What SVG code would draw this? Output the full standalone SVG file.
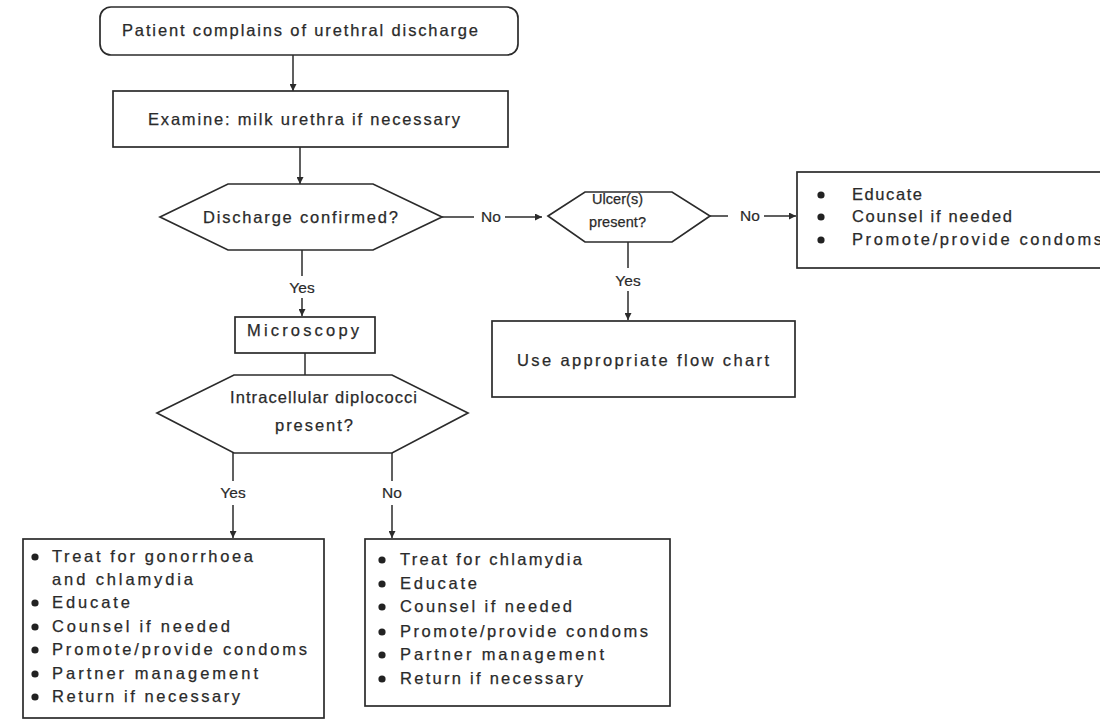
<svg xmlns="http://www.w3.org/2000/svg" width="1100" height="721" viewBox="0 0 1100 721">
  <style>
    .shape { fill: #ffffff; stroke: #2b2b2b; stroke-width: 1.7; }
    .edge { fill: none; stroke: #2b2b2b; stroke-width: 1.5; }
    .t { font-family: "Liberation Sans", Arial, sans-serif; font-size: 16.5px; fill: #2a2a2a; stroke: #2a2a2a; stroke-width: 0.25; }
    .s { font-size: 14.5px; }
    .lbl { font-family: "Liberation Sans", Arial, sans-serif; font-size: 15.5px; fill: #2a2a2a; stroke: #2a2a2a; stroke-width: 0.2; text-anchor: middle; }
    .dot { fill: #222222; }
  </style>
  <defs>
    <marker id="arrow" viewBox="0 0 10 10" refX="10" refY="5" markerWidth="7" markerHeight="7" markerUnits="userSpaceOnUse" orient="auto">
      <path d="M0,0 L10,5 L0,10 z" fill="#2b2b2b"/>
    </marker>
  </defs>
  <rect width="1100" height="721" fill="#ffffff"/>

  <!-- connectors -->
  <g id="connectors">
    <line class="edge" x1="293" y1="55" x2="293" y2="91" marker-end="url(#arrow)"/>
    <line class="edge" x1="300" y1="147" x2="300" y2="184" marker-end="url(#arrow)"/>
    <line class="edge" x1="442" y1="217" x2="474" y2="217"/>
    <text class="lbl" x="491" y="222">No</text>
    <line class="edge" x1="505" y1="217" x2="542" y2="217" marker-end="url(#arrow)"/>
    <line class="edge" x1="710" y1="216" x2="728" y2="216"/>
    <text class="lbl" x="750" y="221">No</text>
    <line class="edge" x1="764" y1="216" x2="796" y2="216" marker-end="url(#arrow)"/>
    <line class="edge" x1="628" y1="242" x2="628" y2="268"/>
    <text class="lbl" x="628" y="286">Yes</text>
    <line class="edge" x1="628" y1="291" x2="628" y2="320" marker-end="url(#arrow)"/>
    <line class="edge" x1="302" y1="250" x2="302" y2="276"/>
    <text class="lbl" x="302" y="293">Yes</text>
    <line class="edge" x1="302" y1="298" x2="302" y2="316" marker-end="url(#arrow)"/>
    <line class="edge" x1="305" y1="353" x2="305" y2="375"/>
    <line class="edge" x1="233" y1="453" x2="233" y2="481"/>
    <text class="lbl" x="233" y="498">Yes</text>
    <line class="edge" x1="233" y1="505" x2="233" y2="538" marker-end="url(#arrow)"/>
    <line class="edge" x1="392" y1="453" x2="392" y2="481"/>
    <text class="lbl" x="392" y="498">No</text>
    <line class="edge" x1="392" y1="505" x2="392" y2="538" marker-end="url(#arrow)"/>
  </g>

  <g id="start">
    <rect class="shape" x="100" y="7" width="418" height="48" rx="11"/>
    <text class="t" x="122" y="36" textLength="356" lengthAdjust="spacing">Patient complains of urethral discharge</text>
  </g>

  <g id="examine">
    <rect class="shape" x="113" y="91" width="395" height="56"/>
    <text class="t" x="148" y="125" textLength="312" lengthAdjust="spacing">Examine: milk urethra if necessary</text>
  </g>

  <g id="discharge-confirmed">
    <polygon class="shape" points="160,217 228,184 373,184 442,217 373,250 228,250"/>
    <text class="t" x="203" y="223" textLength="195" lengthAdjust="spacing">Discharge confirmed?</text>
  </g>

  <g id="ulcers-present">
    <polygon class="shape" points="548,216 585,192 672,192 710,216 672,242 585,242"/>
    <text class="t s" x="592" y="204" textLength="51" lengthAdjust="spacing">Ulcer(s)</text>
    <text class="t s" x="589" y="227" textLength="57" lengthAdjust="spacing">present?</text>
  </g>

  <g id="no-ulcer-actions">
    <rect class="shape" x="797" y="172" width="310" height="96"/>
    <circle class="dot" cx="821" cy="195" r="3.6"/>
    <circle class="dot" cx="821" cy="217" r="3.6"/>
    <circle class="dot" cx="821" cy="240" r="3.6"/>
    <text class="t" x="852" y="200" textLength="70" lengthAdjust="spacing">Educate</text>
    <text class="t" x="852" y="222" textLength="160" lengthAdjust="spacing">Counsel if needed</text>
    <text class="t" x="852" y="245" textLength="250" lengthAdjust="spacing">Promote/provide condoms</text>
  </g>

  <g id="other-flow-chart">
    <rect class="shape" x="492" y="321" width="303" height="76"/>
    <text class="t" x="517" y="366" textLength="252" lengthAdjust="spacing">Use appropriate flow chart</text>
  </g>

  <g id="microscopy">
    <rect class="shape" x="235" y="317" width="140" height="36"/>
    <text class="t" x="247" y="336" textLength="112" lengthAdjust="spacing">Microscopy</text>
  </g>

  <g id="diplococci-present">
    <polygon class="shape" points="157,413 234,375 392,375 468,413 392,453 234,453"/>
    <text class="t" x="230" y="403" textLength="187" lengthAdjust="spacing">Intracellular diplococci</text>
    <text class="t" x="275" y="431" textLength="78" lengthAdjust="spacing">present?</text>
  </g>

  <g id="gonorrhoea-actions">
    <rect class="shape" x="23" y="539" width="301" height="179"/>
    <circle class="dot" cx="35" cy="557" r="3.6"/>
    <circle class="dot" cx="35" cy="603" r="3.6"/>
    <circle class="dot" cx="35" cy="627" r="3.6"/>
    <circle class="dot" cx="35" cy="650" r="3.6"/>
    <circle class="dot" cx="35" cy="674" r="3.6"/>
    <circle class="dot" cx="35" cy="697" r="3.6"/>
    <text class="t" x="52" y="562" textLength="201" lengthAdjust="spacing">Treat for gonorrhoea</text>
    <text class="t" x="52" y="585" textLength="141" lengthAdjust="spacing">and chlamydia</text>
    <text class="t" x="52" y="608" textLength="78" lengthAdjust="spacing">Educate</text>
    <text class="t" x="52" y="632" textLength="178" lengthAdjust="spacing">Counsel if needed</text>
    <text class="t" x="52" y="655" textLength="255" lengthAdjust="spacing">Promote/provide condoms</text>
    <text class="t" x="52" y="679" textLength="206" lengthAdjust="spacing">Partner management</text>
    <text class="t" x="52" y="702" textLength="188" lengthAdjust="spacing">Return if necessary</text>
  </g>

  <g id="chlamydia-actions">
    <rect class="shape" x="365" y="539" width="305" height="167"/>
    <circle class="dot" cx="382" cy="560" r="3.6"/>
    <circle class="dot" cx="382" cy="584" r="3.6"/>
    <circle class="dot" cx="382" cy="607" r="3.6"/>
    <circle class="dot" cx="382" cy="632" r="3.6"/>
    <circle class="dot" cx="382" cy="655" r="3.6"/>
    <circle class="dot" cx="382" cy="679" r="3.6"/>
    <text class="t" x="400" y="565" textLength="182" lengthAdjust="spacing">Treat for chlamydia</text>
    <text class="t" x="400" y="589" textLength="77" lengthAdjust="spacing">Educate</text>
    <text class="t" x="400" y="612" textLength="172" lengthAdjust="spacing">Counsel if needed</text>
    <text class="t" x="400" y="637" textLength="248" lengthAdjust="spacing">Promote/provide condoms</text>
    <text class="t" x="400" y="660" textLength="204" lengthAdjust="spacing">Partner management</text>
    <text class="t" x="400" y="684" textLength="183" lengthAdjust="spacing">Return if necessary</text>
  </g>
</svg>
